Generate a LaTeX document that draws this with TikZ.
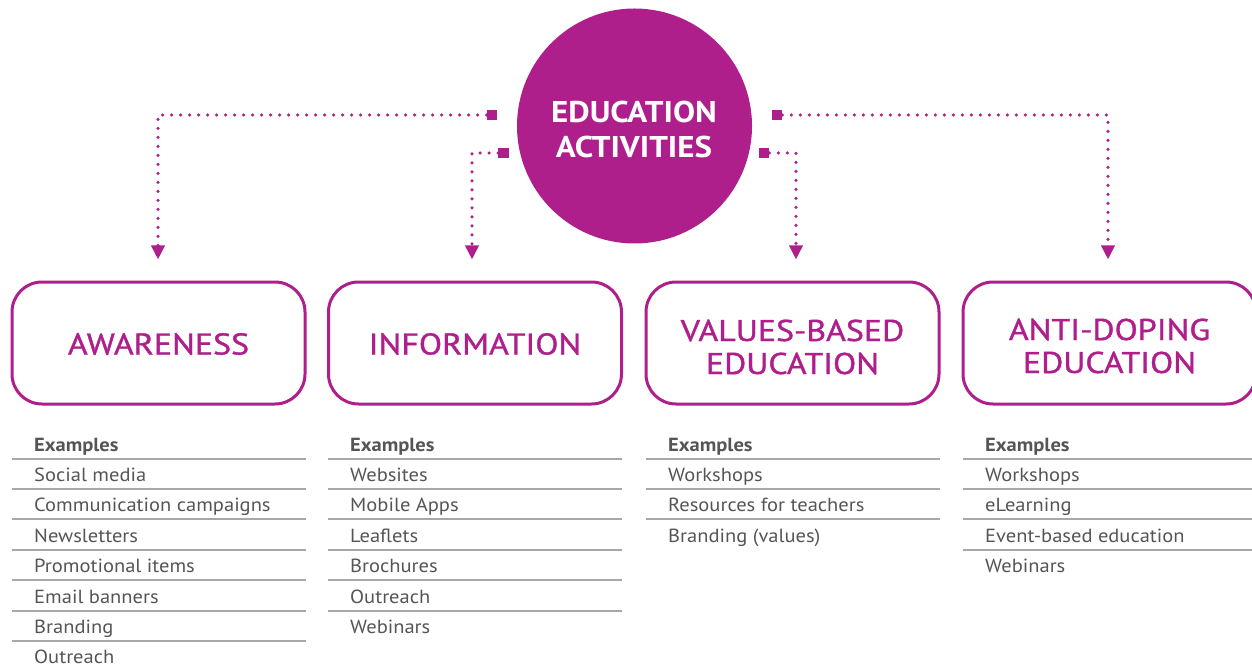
\documentclass[tikz,border=0pt]{standalone}
\usepackage{fontspec}
\setmainfont{PT Sans}
\newfontfamily\catfont[FakeStretch=1.13, FakeBold=1.2]{PT Sans}
\newfontfamily\listfont[FakeStretch=1.08]{PT Sans}
\newfontfamily\headfont[FakeStretch=1.1]{PT Sans}
\usetikzlibrary{arrows.meta}
\definecolor{mag}{HTML}{AE1F8C}
\definecolor{txt}{HTML}{555555}
\definecolor{rulec}{HTML}{A8A8A8}
\newcommand\excol[3]{%
  \node[item, font=\listfont\bfseries\fontsize{19}{20}\selectfont] (#2h) at (#1+22,451) {Examples};
  \foreach \t [count=\i] in {#3} {
    \draw[rl] (#1,{458.5+30.4*(\i-1)}) -- ++(294,0);
    \node[item] (#2\i) at (#1+22,{451+30.4*\i}) {\t};
  }
}
\begin{document}
\begin{tikzpicture}[x=1pt,y=-1pt,
  cat/.style={draw=mag, line width=3pt, rounded corners=30pt, minimum width=293pt, minimum height=122pt, inner sep=0pt},
  catlbl/.style={text=mag, font=\catfont\fontsize{30}{33}\selectfont, align=center, inner sep=0pt},
  sq/.style={fill=mag, minimum size=10.5pt, inner sep=0pt},
  conn/.style={mag, line width=3.5pt, dash pattern=on 0pt off 9pt, line cap=round, shorten >=21pt, -{Triangle[width=13pt,length=14pt]}},
  item/.style={anchor=base west, text=txt, font=\listfont\fontsize{19}{20}\selectfont, inner sep=0pt},
  rl/.style={rulec, line width=2pt}]
\useasboundingbox (0,0) rectangle (1252,668);
\node[circle, fill=mag, minimum size=235pt, inner sep=0pt] (edu) at (634.5,126) {};
\node[text=white, font=\headfont\bfseries\fontsize{30}{35}\selectfont, align=center] (edut) at (634,130) {EDUCATION\\ACTIVITIES};
\node[cat] (b1) at (158.5,343) {};
\node[cat] (b2) at (475,343) {};
\node[cat] (b3) at (792.5,343) {};
\node[cat] (b4) at (1109.5,343) {};
\node[catlbl] (l1) at (158.5,344) {AWARENESS};
\node[catlbl] (l2) at (475,344) {INFORMATION};
\node[catlbl] (l3) at (792.5,347) {VALUES-BASED\\EDUCATION};
\node[catlbl] (l4) at (1109.5,346) {ANTI-DOPING\\EDUCATION};
\node[sq] (s1) at (492,115) {};
\node[sq] (s2) at (503.5,153) {};
\node[sq] (s3) at (764,153) {};
\node[sq] (s4) at (777,115) {};
\draw[conn] (s1.west) -| ([xshift=-0.5pt]b1.north);
\draw[conn] (s2.west) -| ([xshift=-3pt]b2.north);
\draw[conn] (s3.east) -| ([xshift=3.5pt]b3.north);
\draw[conn] (s4.east) -| ([xshift=-1.5pt]b4.north);
\excol{12}{a}{Social media,Communication campaigns,Newsletters,Promotional items,Email banners,Branding,Outreach}
\excol{328}{b}{Websites,Mobile Apps,Leaflets,Brochures,Outreach,Webinars}
\excol{646}{c}{Workshops,Resources for teachers,Branding (values)}
\excol{963}{d}{Workshops,eLearning,Event-based education,Webinars}
\end{tikzpicture}
\end{document}
